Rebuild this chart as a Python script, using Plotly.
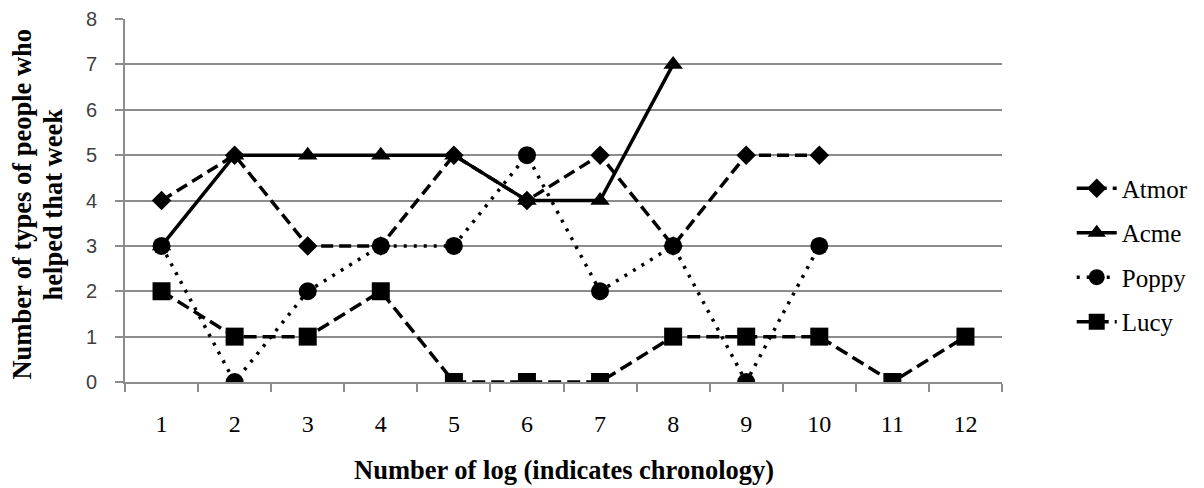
import plotly.graph_objects as go

categories = [str(i) for i in range(1, 13)]
atmor = [4, 5, 3, 3, 5, 4, 5, 3, 5, 5]
acme = [3, 5, 5, 5, 5, 4, 4, 7]
poppy = [3, 0, 2, 3, 3, 5, 2, 3, 0, 3]
lucy = [2, 1, 1, 2, 0, 0, 0, 1, 1, 1, 0, 1]
y_ticks = list(range(0, 9))

series = [
    ("Atmor", atmor, "12px,6px", "diamond", 15),
    ("Acme", acme, "solid", "triangle-up", 17),
    ("Poppy", poppy, "3px,7px", "circle", 18),
    ("Lucy", lucy, "13px,6px", "square", 18),
]

fig = go.Figure()
for name, vals, dash, sym, size in series:
    fig.add_trace(go.Scatter(
        x=categories[:len(vals)], y=vals, name=name, mode="lines+markers",
        line=dict(color="black", width=3.5, dash=dash),
        marker=dict(symbol=sym, size=size, color="black"),
        legendgroup=name,
    ))

fig.update_layout(
    width=1196, height=480,
    margin=dict(l=117, r=199, t=11, b=106),
    plot_bgcolor="white", paper_bgcolor="white",
    showlegend=True,
    legend=dict(x=1.0795, y=0.35, xanchor="left", yanchor="middle",
                font=dict(family="Liberation Serif", size=25, color="black"),
                traceorder="grouped", tracegroupgap=9, itemwidth=40),
    xaxis=dict(type="category", categoryarray=categories, range=[-0.5, 11.5],
               automargin=False,
               tickson="boundaries", ticks="outside", ticklen=8, tickwidth=2,
               tickcolor="#8c8c8c", showline=True, linecolor="#8c8c8c", linewidth=2,
               showgrid=False, ticklabelstandoff=19,
               tickfont=dict(family="Liberation Serif", size=24, color="black")),
    yaxis=dict(range=[0, 8], tickvals=y_ticks, ticks="outside", ticklen=8, tickwidth=2,
               automargin=False,
               tickcolor="#8c8c8c", showline=True, linecolor="#8c8c8c", linewidth=2,
               showgrid=True, gridcolor="#8c8c8c", gridwidth=1.5, zeroline=False,
               ticklabelstandoff=14,
               tickfont=dict(family="Liberation Sans", size=20, color="#404040")),
    annotations=[
        dict(text="<b>Number of types of people who</b>",
             xref="paper", yref="paper", x=-0.117, y=0.49, xanchor="center", yanchor="middle",
             textangle=-90, showarrow=False,
             font=dict(family="Liberation Serif", size=26.5, color="black")),
        dict(text="<b>helped that week</b>",
             xref="paper", yref="paper", x=-0.0818, y=0.49, xanchor="center", yanchor="middle",
             textangle=-90, showarrow=False,
             font=dict(family="Liberation Serif", size=26.5, color="black")),
        dict(text="<b>Number of log (indicates chronology)</b>",
             xref="paper", yref="paper", x=0.501, y=-0.242,
             xanchor="center", yanchor="middle", showarrow=False,
             font=dict(family="Liberation Serif", size=26.5, color="black")),
    ],
)

fig.write_html("out.html")
